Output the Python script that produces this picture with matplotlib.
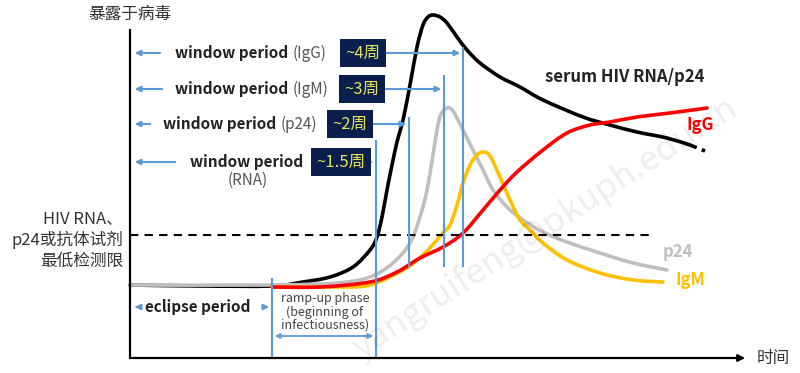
import numpy as np
import matplotlib
matplotlib.use('Agg')
import matplotlib.pyplot as plt
from matplotlib.path import Path
from matplotlib.patches import PathPatch

plt.rcParams['font.family'] = ['Noto Sans CJK SC', 'DejaVu Sans']

# time since exposure (arbitrary units) and marker level (arbitrary units)
rna_t = [0, 70, 142, 173, 200, 223, 240, 247, 252, 257, 262, 267, 273, 280, 287, 293,
         298, 303, 310, 317, 327, 337, 350, 370, 390, 413, 453, 480, 507, 537, 560]
rna_v = [73, 72, 72, 76, 81, 91, 108, 121, 141, 168, 193, 216, 238, 273, 311, 333,
         341, 343, 341, 335, 321, 308, 295, 281, 271, 258, 241, 233, 226, 220, 213]
rna_tail_t = [560, 575]
rna_tail_v = [213, 207]

p24_t = [0, 142, 207, 240, 263, 280, 290, 297, 303, 307, 311, 317, 323, 333, 343,
         353, 363, 377, 393, 413, 437, 470, 503, 537]
p24_v = [73, 73, 75, 81, 95, 115, 141, 168, 203, 228, 244, 250, 247, 228, 208,
         188, 168, 151, 138, 126, 116, 105, 95, 88]

igm_t = [142, 207, 240, 273, 293, 313, 320, 327, 333, 340, 347, 353, 360, 370, 380,
         390, 400, 413, 437, 470, 503, 533]
igm_v = [71, 71, 73, 88, 103, 125, 133, 153, 175, 193, 203, 206, 202, 181, 158,
         138, 128, 115, 98, 85, 78, 76]

igg_t = [142, 190, 240, 267, 290, 313, 333, 353, 370, 387, 413, 437, 460, 480, 507, 540, 577]
igg_v = [71, 71, 76, 86, 100, 111, 125, 148, 168, 186, 208, 225, 233, 236, 241, 245, 250]

detect_limit = 123
ramp_start = 142

window_names = ['IgG', 'IgM', 'p24', 'RNA']
window_weeks = ['~4周', '~3周', '~2周', '~1.5周']
window_end = [333, 314, 279, 246]

blue = '#5B9BD5'
navy = '#0B1F4E'


def smooth_path(t, v):
    # bezier through the read points (catmull-rom control points)
    pts = np.column_stack([t, v]).astype(float)
    verts = [pts[0]]
    codes = [Path.MOVETO]
    n = len(pts)
    for i in range(n - 1):
        p0 = pts[i - 1] if i > 0 else pts[i]
        p1 = pts[i]
        p2 = pts[i + 1]
        p3 = pts[i + 2] if i + 2 < n else pts[i + 1]
        verts += [p1 + (p2 - p0) / 6, p2 - (p3 - p1) / 6, p2]
        codes += [Path.CURVE4] * 3
    return Path(verts, codes)


def draw_curve(ax, t, v, color, **kw):
    ax.add_patch(PathPatch(smooth_path(t, v), fill=False, ec=color, lw=2.6,
                           capstyle='round', joinstyle='round', **kw))


fig = plt.figure(figsize=(8, 3.73), dpi=100)
ax = fig.add_axes([0, 0, 1, 1])
ax.set_xlim(-130, 670)
ax.set_ylim(-15, 358)
ax.axis('off')

# axes
ax.plot([0, 0], [0, 328], color='black', lw=1.6)
ax.annotate('', xy=(618, 0), xytext=(-1, 0),
            arrowprops=dict(arrowstyle='-|>', color='black', lw=1.6, mutation_scale=10))
ax.text(0, 343, '暴露于病毒', ha='center', va='center', fontsize=12, color='#333333')
ax.text(627, 0, '时间', ha='left', va='center', fontsize=12, color='#333333')

# detection limit
ax.plot([0, 520], [detect_limit, detect_limit], color='black', lw=1.5, ls=(0, (4, 3)))
ax.text(-7, 118, 'HIV RNA、\np24或抗体试剂\n最低检测限', ha='right', va='center',
        fontsize=12, color='#333333', linespacing=1.25)

# blue detection lines
row_y = [305, 269, 234, 196]
line_top = [311, 283, 241, 218]
line_bottom = [91, 91, 91, 0]
box_x = [233, 232, 220, 211]
text_x = [45, 45, 33, 60]
arrow_start = [33, 35, 23, 48]
ax.vlines(ramp_start, 0, 80, color=blue, lw=1.5)
for i in range(4):
    ax.vlines(window_end[i], line_bottom[i], line_top[i], color=blue, lw=1.5)
    ax.annotate('', xy=(2, row_y[i]), xytext=(arrow_start[i], row_y[i]),
                arrowprops=dict(arrowstyle='-|>', color=blue, lw=1.5, mutation_scale=8))
    ax.annotate('', xy=(window_end[i], row_y[i]), xytext=(box_x[i], row_y[i]),
                arrowprops=dict(arrowstyle='-|>', color=blue, lw=1.5, mutation_scale=8))
    ax.text(box_x[i], row_y[i], window_weeks[i], ha='center', va='center', fontsize=12,
            color='#E2E25A', bbox=dict(boxstyle='square,pad=0.35', fc=navy, ec='none'))
    if window_names[i] == 'RNA':
        ax.text(text_x[i], row_y[i], 'window period', ha='left', va='center',
                fontsize=11, fontweight='bold', color='#222222')
        ax.text(118, 178, '(RNA)', ha='center', va='center', fontsize=11, color='#555555')
    else:
        t1 = ax.text(text_x[i], row_y[i], 'window period', ha='left', va='center',
                     fontsize=11, fontweight='bold', color='#222222')
        ax.annotate('(%s)' % window_names[i], xy=(1, 0.5), xycoords=t1,
                    xytext=(3, 0), textcoords='offset points', ha='left', va='center',
                    fontsize=11, color='#555555')

# eclipse / ramp-up
ax.annotate('', xy=(2, 51), xytext=(10, 51),
            arrowprops=dict(arrowstyle='-|>', color=blue, lw=1.5, mutation_scale=8))
ax.annotate('', xy=(ramp_start, 51), xytext=(130, 51),
            arrowprops=dict(arrowstyle='-|>', color=blue, lw=1.5, mutation_scale=8))
ax.text(68, 51, 'eclipse period', ha='center', va='center', fontsize=11,
        fontweight='bold', color='#222222')
ax.text(195, 46, 'ramp-up phase\n(beginning of\ninfectiousness)', ha='center', va='center',
        fontsize=9, color='#444444', linespacing=1.0)
ax.annotate('', xy=(window_end[3], 22), xytext=(ramp_start, 22),
            arrowprops=dict(arrowstyle='<|-|>', color=blue, lw=1.3, mutation_scale=7))

# curves
draw_curve(ax, rna_t, rna_v, 'black')
ax.plot(rna_tail_t, rna_tail_v, color='black', lw=2.6, ls=(0, (2, 1.5)))
draw_curve(ax, p24_t, p24_v, '#BFBFBF')
draw_curve(ax, igm_t, igm_v, '#FFC000')
draw_curve(ax, igg_t, igg_v, '#FF0000')

ax.text(495, 281, 'serum HIV RNA/p24', ha='center', va='center', fontsize=12,
        fontweight='bold', color='#222222')
ax.text(570, 233, 'IgG', ha='center', va='center', fontsize=12, fontweight='bold', color='#FF0000')
ax.text(548, 106, 'p24', ha='center', va='center', fontsize=12, fontweight='bold', color='#BFBFBF')
ax.text(560, 78, 'IgM', ha='center', va='center', fontsize=12, fontweight='bold', color='#FFC000')

# watermark
ax.text(415, 130, 'yangruifeng@pkuph.edu.cn', ha='center', va='center', fontsize=25,
        rotation=33, color='#000000', alpha=0.07)

fig.savefig('out.png', dpi=100)
